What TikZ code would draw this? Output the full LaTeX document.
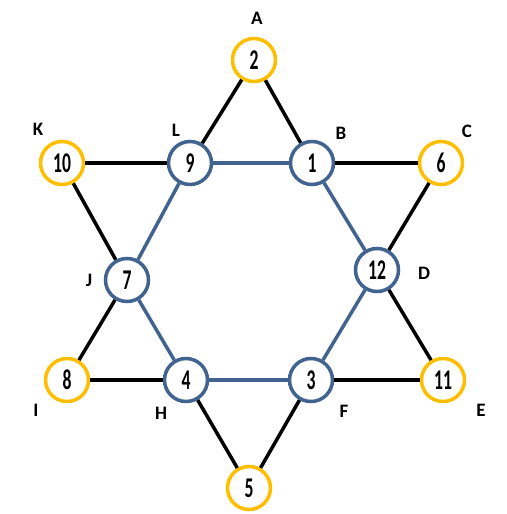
\documentclass[tikz,border=0pt]{standalone}
\usepackage{fontspec}
\setmainfont{Carlito}
\definecolor{gold}{RGB}{255,190,0}
\definecolor{steel}{RGB}{65,99,143}

\begin{document}
\begin{tikzpicture}[x=1pt,y=-1pt,
    spot/.style={circle,draw,line width=3.5pt,fill=white,minimum size=43pt,inner sep=0pt,
                 font=\fontsize{22}{22}\selectfont\bfseries},
    outer/.style={spot,draw=gold},
    inner/.style={spot,draw=steel},
    tag/.style={font=\fontsize{19}{19}\selectfont\bfseries},
    rim/.style={line width=3.5pt,black},
    hex/.style={line width=3.5pt,steel}]
    \useasboundingbox (0,0) rectangle (506,514);

    \newcommand{\num}[1]{\scalebox{0.8}[1.3]{#1}}

    % outer points
    \node[outer] (A) at (254,60) {\num{2}};
    \node[outer] (C) at (441,163) {\num{6}};
    \node[outer] (E) at (443,380) {\num{11}};
    \node[outer] (G) at (249,488) {\num{5}};
    \node[outer] (I) at (67,380) {\num{8}};
    \node[outer] (K) at (62,163) {\num{10}};

    % inner hexagon
    \node[inner] (B) at (312,163) {\num{1}};
    \node[inner] (D) at (377,270) {\num{12}};
    \node[inner] (F) at (311,380) {\num{3}};
    \node[inner] (H) at (186,380) {\num{4}};
    \node[inner] (J) at (127,280) {\num{7}};
    \node[inner] (L) at (190,163) {\num{9}};

    % letters
    \node[tag] (tA) at (257,18) {A};
    \node[tag] (tB) at (341,133) {B};
    \node[tag] (tC) at (467,131) {C};
    \node[tag] (tD) at (424,273) {D};
    \node[tag] (tE) at (481,410) {E};
    \node[tag] (tF) at (344,411) {F};
    \node[tag] (tH) at (161,413) {H};
    \node[tag] (tI) at (36,410) {I};
    \node[tag] (tJ) at (89,280) {J};
    \node[tag] (tK) at (38,129) {K};
    \node[tag] (tL) at (176,130) {L};

    % star edges
    \draw[rim] (A) -- (B);
    \draw[rim] (A) -- (L);
    \draw[rim] (B) -- (C);
    \draw[rim] (C) -- (D);
    \draw[rim] (D) -- (E);
    \draw[rim] (E) -- (F);
    \draw[rim] (F) -- (G);
    \draw[rim] (G) -- (H);
    \draw[rim] (H) -- (I);
    \draw[rim] (I) -- (J);
    \draw[rim] (J) -- (K);
    \draw[rim] (K) -- (L);

    \draw[hex] (L) -- (B);
    \draw[hex] (B) -- (D);
    \draw[hex] (D) -- (F);
    \draw[hex] (F) -- (H);
    \draw[hex] (H) -- (J);
    \draw[hex] (J) -- (L);
\end{tikzpicture}
\end{document}
